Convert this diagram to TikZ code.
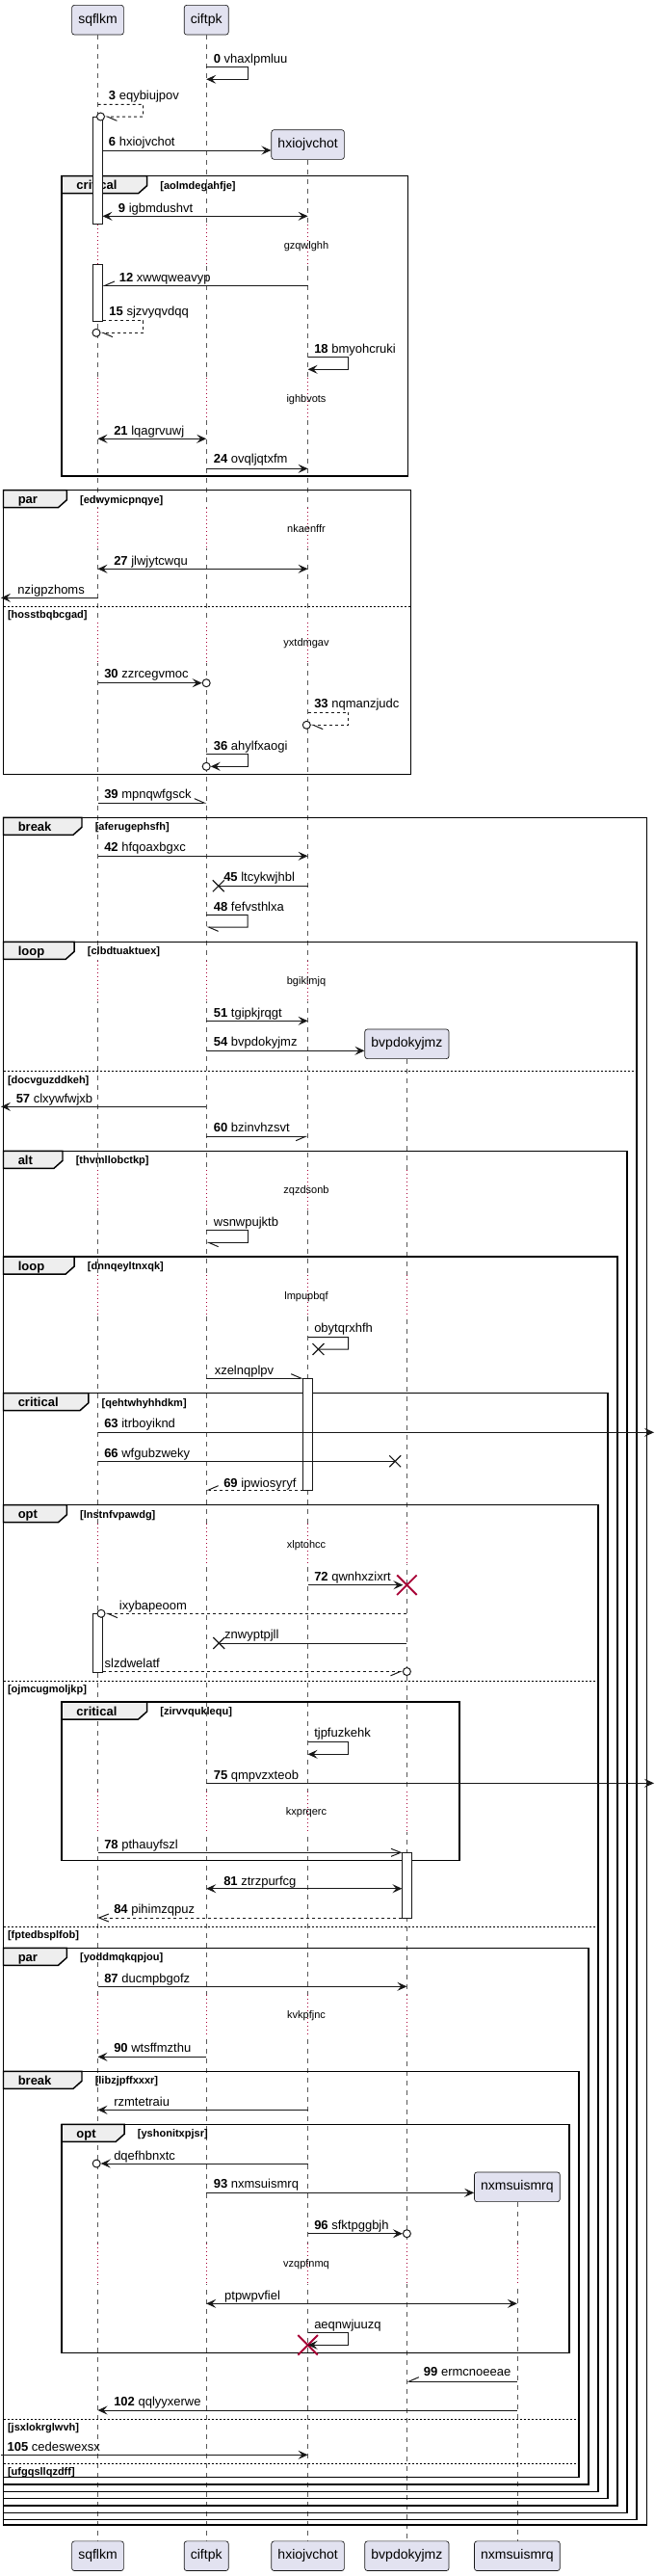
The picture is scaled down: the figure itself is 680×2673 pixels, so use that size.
\documentclass[tikz,border=0pt]{standalone}
\usepackage{fontspec}
\setmainfont{Liberation Sans}
\usepackage{tikz}
\usetikzlibrary{arrows.meta}
\usetikzlibrary{shapes.misc}
\usetikzlibrary{positioning}

\definecolor{partfill}{HTML}{E2E2F0}
\definecolor{partline}{HTML}{181818}
\definecolor{tabfill}{HTML}{EEEEEE}
\definecolor{dlyred}{HTML}{A80036}

% group frame: name, left, top, right, bottom, tab right, keyword, guard
\newcommand{\sqgroup}[8]{%
  \draw[frm] (#2,#3) rectangle (#4,#5);
  \draw[tab] (#2,#3) -- (#6,#3) -- (#6,#3+10) -- (#6-9,#3+18) -- (#2,#3+18) -- cycle;
  \node[kw] (#1k) at (#2+15,#3+9.5) {#7};
  \node[grd] (#1g) at (#6+13.5,#3+9.5) {#8};
}
% else line: name, left, right, y, guard
\newcommand{\sqelse}[5]{%
  \draw[sepline] (#2,#4) -- (#3,#4);
  \node[grd] (#1) at (#2+4.3,#4+8.5) {#5};
}

\begin{document}
\begin{tikzpicture}[
        x = 0.75pt, y = -0.75pt, % one unit is one pixel, y grows downwards
        ftip/.tip = {Stealth[length=7.5pt, width=6.75pt, inset=3pt]},
        otip/.tip = {Straight Barb[length=7.5pt, width=6pt]},
        lbarb/.tip = {Straight Barb[left, length=7.5pt, width=6.5pt]},
        rbarb/.tip = {Straight Barb[right, length=7.5pt, width=6.5pt]},
        part/.style = {draw = partline, fill = partfill, rounded corners = 2pt, line width = 0.5pt,
            minimum height = 23pt, inner xsep = 5pt, font = \fontsize{10.5pt}{12pt}\selectfont},
        life/.style = {draw = black!65, line width = 0.5pt, dash pattern = on 3.75pt off 3.75pt},
        dlyw/.style = {draw = white, line width = 2pt},
        dly/.style = {draw = dlyred, line width = 0.6pt, dash pattern = on 0.6pt off 2.4pt},
        frm/.style = {draw = black, line width = 1.1pt},
        tab/.style = {frm, fill = tabfill},
        sepline/.style = {draw = black, line width = 0.6pt, dash pattern = on 1.5pt off 1.5pt},
        bar/.style = {draw = partline, fill = white, line width = 0.75pt},
        msg/.style = {draw = partline, line width = 0.75pt},
        dsh/.style = {dash pattern = on 2.25pt off 2.25pt},
        circ/.style = {circle, draw = partline, fill = white, line width = 0.75pt, inner sep = 0pt, minimum size = 6pt},
        xend/.style = {cross out, draw = partline, line width = 0.9pt, inner sep = 0pt, minimum size = 8pt},
        kill/.style = {cross out, draw = dlyred, line width = 1.4pt, inner sep = 0pt, minimum size = 14pt},
        lbl/.style = {anchor = base west, inner sep = 0pt, yshift = -3.45pt, font = \fontsize{9.75pt}{11pt}\selectfont},
        dtxt/.style = {anchor = base, inner sep = 0pt, yshift = -2.95pt, font = \fontsize{8.25pt}{10pt}\selectfont},
        kw/.style = {anchor = base west, inner sep = 0pt, yshift = -3.45pt, font = \fontsize{9.75pt}{11pt}\selectfont\bfseries},
        grd/.style = {anchor = base west, inner sep = 0pt, yshift = -2.95pt, font = \fontsize{8.25pt}{10pt}\selectfont\bfseries}
    ]

    \useasboundingbox (0,0) rectangle (680,2673);

    % LIFELINE POSITIONS
    \coordinate (sq) at (101.5,0);
    \coordinate (ci) at (214.2,0);
    \coordinate (hx) at (319.6,0);
    \coordinate (bv) at (422.4,0);
    \coordinate (nx) at (536.9,0);
    \coordinate (sqr) at (106.5,0);
    \coordinate (hxl) at (314.6,0);
    \coordinate (bvl) at (417.4,0);
    \coordinate (lf) at (1,0);
    \coordinate (rt) at (679,0);

    % PARTICIPANTS
    \node[part] (sqT) at (101.5,20.7) {sqflkm};
    \node[part] (ciT) at (214.2,20.7) {ciftpk};
    \node[part] (hxT) at (319.6,150) {hxiojvchot};
    \node[part] (bvT) at (422.4,1083.3) {bvpdokyjmz};
    \node[part] (nxT) at (536.9,2269.3) {nxmsuismrq};
    \node[part] (sqB) at (101.5,2652.2) {sqflkm};
    \node[part] (ciB) at (214.2,2652.2) {ciftpk};
    \node[part] (hxB) at (319.6,2652.2) {hxiojvchot};
    \node[part] (bvB) at (422.4,2652.2) {bvpdokyjmz};
    \node[part] (nxB) at (536.9,2652.2) {nxmsuismrq};

    \draw[life] (sqT) -- (sqB);
    \draw[life] (ciT) -- (ciB);
    \draw[life] (hxT) -- (hxB);
    \draw[life] (bvT) -- (bvB);
    \draw[life] (nxT) -- (nxB);

    % DELAYS
    \foreach \d in {254.3,413.3,548.3,666.7,1017.7} {
        \foreach \p in {sq,ci,hx} {
            \draw[dlyw] (\p|-0,\d-21) -- (\p|-0,\d+21);
            \draw[dly] (\p|-0,\d-21) -- (\p|-0,\d+21);
        }
    }
    \foreach \d in {1235,1344.3,1602.3,1880,2091} {
        \foreach \p in {sq,ci,hx,bv} {
            \draw[dlyw] (\p|-0,\d-21) -- (\p|-0,\d+21);
            \draw[dly] (\p|-0,\d-21) -- (\p|-0,\d+21);
        }
    }
    \foreach \p in {sq,ci,hx,bv,nx} {
        \draw[dlyw] (\p|-0,2327.7) -- (\p|-0,2369.7);
        \draw[dly] (\p|-0,2327.7) -- (\p|-0,2369.7);
    }

    % GROUPS
    \sqgroup{crA}{64.2}{182.7}{423.7}{494}{152.6}{critical}{[aolmdegahfje]}
    \sqgroup{parA}{3.5}{508.7}{426.7}{803.3}{69.4}{par}{[edwymicpnqye]}
    \sqelse{sA}{3.5}{426.7}{629.3}{[hosstbqbcgad]}
    \sqgroup{brA}{3.5}{848.3}{671.3}{2620}{85}{break}{[aferugephsfh]}
    \sqgroup{lpA}{3.5}{977.3}{661}{2614.3}{77.2}{loop}{[clbdtuaktuex]}
    \sqelse{sB}{3.5}{661}{1111.7}{[docvguzddkeh]}
    \sqgroup{alA}{3.5}{1194.3}{651}{2607.3}{65}{alt}{[thvmllobctkp]}
    \sqgroup{lpB}{3.5}{1304}{641}{2600}{77.2}{loop}{[dnnqeyltnxqk]}
    \sqgroup{crB}{3.5}{1445.7}{631}{2592.7}{91.9}{critical}{[qehtwhyhhdkm]}
    \sqgroup{opA}{3.5}{1561.7}{621}{2585.3}{69.4}{opt}{[lnstnfvpawdg]}
    \sqelse{sC}{3.5}{621}{1744}{[ojmcugmoljkp]}
    \sqgroup{crC}{64.2}{1766}{477}{1930.7}{152.6}{critical}{[zirvvquklequ]}
    \sqelse{sD}{3.5}{621}{1999.3}{[fptedbsplfob]}
    \sqgroup{parB}{3.5}{2021.3}{611}{2578}{69.4}{par}{[yoddmqkqpjou]}
    \sqgroup{brB}{3.5}{2149.3}{601}{2570.7}{85}{break}{[libzjpffxxxr]}
    \sqgroup{opB}{64.2}{2204.3}{591}{2441.7}{129.2}{opt}{[yshonitxpjsr]}
    \sqelse{sE}{3.5}{601}{2510}{[jsxlokrglwvh]}
    \sqelse{sF}{3.5}{601}{2556}{[ufgqsllqzdff]}

    % ACTIVATIONS
    \draw[bar] (96.5,121) rectangle (106.5,232.3);
    \draw[bar] (96.5,274) rectangle (106.5,333.3);
    \draw[bar] (314.6,1430) rectangle (324.6,1546);
    \draw[bar] (96.5,1674.3) rectangle (106.5,1735.3);
    \draw[bar] (417.4,1922.3) rectangle (427.4,1990);

    % END MARKS
    \node[circ] (c3) at (104.5,121) {};
    \node[circ] (c15) at (100,345.3) {};
    \node[circ] (c30) at (214.2,708.7) {};
    \node[circ] (c33) at (318.3,752.3) {};
    \node[circ] (c36) at (214.2,795.3) {};
    \node[xend] (x45) at (226.8,919.3) {};
    \node[xend] (xob) at (330.4,1400) {};
    \node[xend] (x66) at (410.2,1516.3) {};
    \node[kill] (k72) at (422.4,1644.7) {};
    \node[circ] (cix) at (105,1674.3) {};
    \node[xend] (xzn) at (227.2,1705) {};
    \node[circ] (csl) at (422.4,1734.5) {};
    \node[circ] (cdq) at (100.2,2245) {};
    \node[circ] (c96) at (422.4,2317.7) {};
    \node[kill] (kae) at (319.6,2433.3) {};

    % MESSAGES
    \draw[msg,-ftip] (ci|-0,69.3) -- ++(43,0) -- ++(0,13) -- (ci|-0,82.3);
    \draw[msg,dsh,-lbarb] (sq|-0,108.3) -- ++(47,0) -- ++(0,12.7) -- (c3);
    \draw[msg,-ftip] (sqr|-0,156) -- (hxT.west|-0,156);
    \draw[msg,ftip-ftip] (sqr|-0,224.3) -- (hx|-0,224.3);
    \draw[msg,-rbarb] (hx|-0,296.3) -- (sqr|-0,296.3);
    \draw[msg,dsh,-lbarb] (sqr|-0,332.7) -- ++(42,0) -- ++(0,12.6) -- (c15);
    \draw[msg,-ftip] (hx|-0,370.7) -- ++(42,0) -- ++(0,12.6) -- (hx|-0,383.3);
    \draw[msg,ftip-ftip] (sq|-0,455.3) -- (ci|-0,455.3);
    \draw[msg,-ftip] (ci|-0,486.3) -- (hx|-0,486.3);
    \draw[msg,ftip-ftip] (sq|-0,590.3) -- (hx|-0,590.3);
    \draw[msg,-ftip] (sq|-0,620.3) -- (lf|-0,620.3);
    \draw[msg,-ftip] (sq|-0,708.7) -- (c30);
    \draw[msg,dsh,-lbarb] (hx|-0,739.3) -- ++(42,0) -- ++(0,13) -- (c33);
    \draw[msg,-ftip] (ci|-0,782.7) -- ++(43,0) -- ++(0,12.6) -- (c36);
    \draw[msg,-lbarb] (sq|-0,833) -- (ci|-0,833);
    \draw[msg,-ftip] (sq|-0,888.3) -- (hx|-0,888.3);
    \draw[msg] (hx|-0,919.3) -- (x45.center);
    \draw[msg,-lbarb] (ci|-0,949.3) -- ++(43,0) -- ++(0,12.7) -- (ci|-0,962);
    \draw[msg,-ftip] (ci|-0,1059.3) -- (hx|-0,1059.3);
    \draw[msg,-ftip] (ci|-0,1090.3) -- (bvT.west|-0,1090.3);
    \draw[msg,-ftip] (ci|-0,1148.3) -- (lf|-0,1148.3);
    \draw[msg,-rbarb] (ci|-0,1179.3) -- (hx|-0,1179.3);
    \draw[msg,-lbarb] (ci|-0,1276.7) -- ++(43,0) -- ++(0,12.6) -- (ci|-0,1289.3);
    \draw[msg] (hx|-0,1387.7) -- ++(42,0) -- ++(0,12.3) -- (xob.center);
    \draw[msg,-lbarb] (ci|-0,1430) -- (hxl|-0,1430);
    \draw[msg,-ftip] (sq|-0,1486.3) -- (rt|-0,1486.3);
    \draw[msg] (sq|-0,1516.3) -- (x66.center);
    \draw[msg,dsh,-rbarb] (hxl|-0,1546) -- (ci|-0,1546);
    \draw[msg,-ftip,shorten >=3pt] (hx|-0,1644.7) -- (k72.center);
    \draw[msg,dsh,-lbarb] (bv|-0,1674.3) -- (cix);
    \draw[msg] (bv|-0,1705) -- (xzn.center);
    \draw[msg,dsh,-rbarb] (sqr|-0,1734.5) -- (csl);
    \draw[msg,-ftip] (hx|-0,1807.3) -- ++(42,0) -- ++(0,13) -- (hx|-0,1820.3);
    \draw[msg,-ftip] (ci|-0,1850.3) -- (rt|-0,1850.3);
    \draw[msg,-otip] (sq|-0,1922.3) -- (bvl|-0,1922.3);
    \draw[msg,ftip-ftip] (ci|-0,1959.7) -- (bvl|-0,1959.7);
    \draw[msg,dsh,-otip] (bvl|-0,1990) -- (sq|-0,1990);
    \draw[msg,-ftip] (sq|-0,2061.3) -- (bv|-0,2061.3);
    \draw[msg,-ftip] (ci|-0,2134.3) -- (sq|-0,2134.3);
    \draw[msg,-ftip] (hx|-0,2189.3) -- (sq|-0,2189.3);
    \draw[msg,-ftip] (hx|-0,2245) -- (cdq);
    \draw[msg,-ftip] (ci|-0,2275.3) -- (nxT.west|-0,2275.3);
    \draw[msg,-ftip] (hx|-0,2317.7) -- (c96);
    \draw[msg,ftip-ftip] (ci|-0,2390.3) -- (nx|-0,2390.3);
    \draw[msg,-ftip] (hx|-0,2420.3) -- ++(42,0) -- ++(0,13) -- (hx|-0,2433.3);
    \draw[msg,-rbarb] (nx|-0,2471) -- (bv|-0,2471);
    \draw[msg,-ftip] (nx|-0,2501) -- (sq|-0,2501);
    \draw[msg,-ftip] (lf|-0,2547.3) -- (hx|-0,2547.3);

    % MESSAGE LABELS
    \node[lbl] (m0) at (221.6,61) {\textbf{0} vhaxlpmluu};
    \node[lbl] (m3) at (112.7,99) {\textbf{3} eqybiujpov};
    \node[lbl] (m6) at (112.7,147) {\textbf{6} hxiojvchot};
    \node[lbl] (m9) at (122.7,216) {\textbf{9} igbmdushvt};
    \node[lbl] (m12) at (123.6,287.7) {\textbf{12} xwwqweavyp};
    \node[lbl] (m15) at (113.2,323) {\textbf{15} sjzvyqvdqq};
    \node[lbl] (m18) at (326,361.7) {\textbf{18} bmyohcruki};
    \node[lbl] (m21) at (118,446.7) {\textbf{21} lqagrvuwj};
    \node[lbl] (m24) at (221.6,476.3) {\textbf{24} ovqljqtxfm};
    \node[lbl] (m27) at (118,581.7) {\textbf{27} jlwjytcwqu};
    \node[lbl] (mnz) at (18.2,611.7) {nzigpzhoms};
    \node[lbl] (m30) at (108,699.3) {\textbf{30} zzrcegvmoc};
    \node[lbl] (m33) at (326,729.7) {\textbf{33} nqmanzjudc};
    \node[lbl] (m36) at (221.6,773.7) {\textbf{36} ahylfxaogi};
    \node[lbl] (m39) at (108,823.7) {\textbf{39} mpnqwfgsck};
    \node[lbl] (m42) at (108,879.3) {\textbf{42} hfqoaxbgxc};
    \node[lbl] (m45) at (232,910) {\textbf{45} ltcykwjhbl};
    \node[lbl] (m48) at (221.6,940.7) {\textbf{48} fefvsthlxa};
    \node[lbl] (m51) at (221.6,1050.7) {\textbf{51} tgipkjrqgt};
    \node[lbl] (m54) at (221.6,1081.3) {\textbf{54} bvpdokyjmz};
    \node[lbl] (m57) at (16.5,1140) {\textbf{57} clxywfwjxb};
    \node[lbl] (m60) at (221.6,1170.3) {\textbf{60} bzinvhzsvt};
    \node[lbl] (mws) at (221.6,1267.7) {wsnwpujktb};
    \node[lbl] (mob) at (326,1377.7) {obytqrxhfh};
    \node[lbl] (mxz) at (222.5,1421.7) {xzelnqplpv};
    \node[lbl] (m63) at (108,1476.7) {\textbf{63} itrboyiknd};
    \node[lbl] (m66) at (108,1507.7) {\textbf{66} wfgubzweky};
    \node[lbl] (m69) at (232,1538.7) {\textbf{69} ipwiosyryf};
    \node[lbl] (m72) at (326,1635.7) {\textbf{72} qwnhxzixrt};
    \node[lbl] (mix) at (123.6,1666) {ixybapeoom};
    \node[lbl] (mzn) at (232.9,1696.3) {znwyptpjll};
    \node[lbl] (msl) at (108.4,1726) {slzdwelatf};
    \node[lbl] (mtj) at (326,1798) {tjpfuzkehk};
    \node[lbl] (m75) at (221.6,1841.7) {\textbf{75} qmpvzxteob};
    \node[lbl] (m78) at (108,1914.3) {\textbf{78} pthauyfszl};
    \node[lbl] (m81) at (232,1951.7) {\textbf{81} ztrzpurfcg};
    \node[lbl] (m84) at (118,1981.3) {\textbf{84} pihimzqpuz};
    \node[lbl] (m87) at (108,2052.7) {\textbf{87} ducmpbgofz};
    \node[lbl] (m90) at (118,2125.3) {\textbf{90} wtsffmzthu};
    \node[lbl] (mrz) at (118,2180.7) {rzmtetraiu};
    \node[lbl] (mdq) at (118,2236.7) {dqefhbnxtc};
    \node[lbl] (m93) at (221.6,2266) {\textbf{93} nxmsuismrq};
    \node[lbl] (m96) at (326,2309) {\textbf{96} sfktpggbjh};
    \node[lbl] (mpt) at (232.9,2382.3) {ptpwpvfiel};
    \node[lbl] (mae) at (326,2412) {aeqnwjuuzq};
    \node[lbl] (m99) at (439.7,2461.3) {\textbf{99} ermcnoeeae};
    \node[lbl] (m102) at (118,2492.3) {\textbf{102} qqlyyxerwe};
    \node[lbl] (m105) at (7.4,2538.7) {\textbf{105} cedeswexsx};

    % DELAY TEXTS
    \node[dtxt] (d1) at (318,254.3) {gzqwlghh};
    \node[dtxt] (d2) at (318,413.3) {ighbvots};
    \node[dtxt] (d3) at (318,548.3) {nkaenffr};
    \node[dtxt] (d4) at (318,666.7) {yxtdmgav};
    \node[dtxt] (d5) at (318,1017.7) {bgiklmjq};
    \node[dtxt] (d6) at (318,1235) {zqzdsonb};
    \node[dtxt] (d7) at (318,1344.3) {lmpupbqf};
    \node[dtxt] (d8) at (318,1602.3) {xlptohcc};
    \node[dtxt] (d9) at (318,1880) {kxprqerc};
    \node[dtxt] (d10) at (318,2091) {kvkpfjnc};
    \node[dtxt] (d11) at (318,2348.7) {vzqpfnmq};

\end{tikzpicture}
\end{document}
